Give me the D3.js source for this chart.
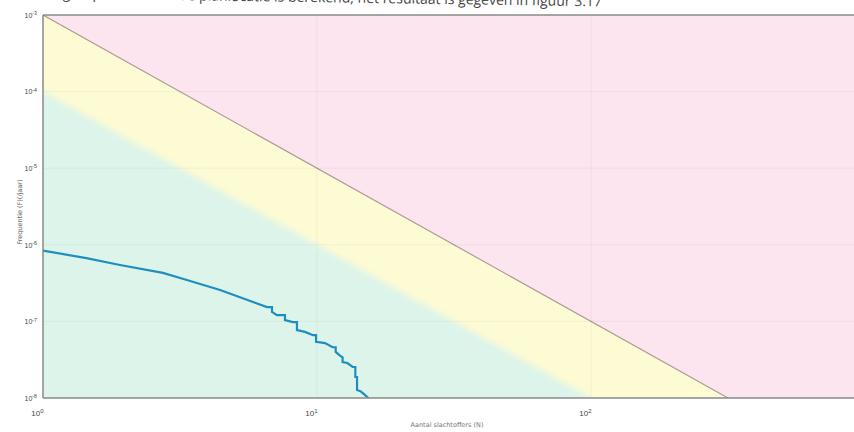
<!DOCTYPE html>
<html>
<head>
<meta charset="utf-8">
<script src="https://cdn.jsdelivr.net/npm/d3@7"></script>
<style>
  body { margin: 0; background: #fff; }
  svg { display: block; font-family: "DejaVu Sans", sans-serif; }
</style>
</head>
<body>
<svg id="chart" width="854" height="432"></svg>
<script>
// F-N curve (groepsrisico) data
var curveN = [1.0, 1.44, 1.91, 2.74, 3.35, 4.43, 5.84, 6.57, 6.85, 6.85, 7.14, 7.64, 7.64, 8.17, 8.45, 8.45, 9.04, 9.67, 9.92, 9.92, 10.7, 11.4, 11.7, 11.7, 12.1, 12.4, 12.4, 12.9, 13.5, 13.8, 13.8, 14.0, 14.0, 14.4, 14.7, 15.4];
var curveF = [8.4e-7, 6.7e-7, 5.45e-7, 4.3e-7, 3.47e-7, 2.57e-7, 1.79e-7, 1.54e-7, 1.54e-7, 1.33e-7, 1.21e-7, 1.21e-7, 1.04e-7, 9.8e-8, 9.8e-8, 7.7e-8, 7.3e-8, 6.6e-8, 6.6e-8, 5.4e-8, 5.2e-8, 4.6e-8, 4.6e-8, 4.0e-8, 3.6e-8, 3.4e-8, 2.95e-8, 2.86e-8, 2.54e-8, 2.54e-8, 1.88e-8, 1.88e-8, 1.27e-8, 1.23e-8, 1.16e-8, 1.0e-8];

// norm lines F = C / N^2
var limitC = [1e-3, 1e-4];
var zoneColors = ["#fce5ef", "#fdfbd3", "#ddf4ea"];

var xTicks = [1, 10, 100];
var yTicks = [1e-3, 1e-4, 1e-5, 1e-6, 1e-7, 1e-8];
var xDomain = [1, 1000];
var yDomain = [1e-8, 1e-3];

var svg = d3.select("#chart");
var mLeft = 43, mTop = 15, mBottom = 398, mRight = 865;

var x = d3.scaleLog().domain(xDomain).range([mLeft, mRight]);
var y = d3.scaleLog().domain(yDomain).range([mBottom, mTop]);

// cut-off line of page text above the figure (scan is slightly skewed)
svg.append("text")
    .attr("transform", "translate(36,-2) rotate(0.85)")
    .attr("font-family", "Open Sans, sans-serif")
    .attr("font-size", 14)
    .attr("fill", "#444")
    .text("Het groepsrisico voor de planlocatie is berekend; het resultaat is gegeven in figuur 3.17");

var defs = svg.append("defs");
defs.append("clipPath").attr("id", "plot")
  .append("rect").attr("x", mLeft).attr("y", mTop)
    .attr("width", mRight - mLeft).attr("height", mBottom - mTop);
defs.append("filter").attr("id", "soft")
  .attr("x", "-10%").attr("y", "-10%").attr("width", "120%").attr("height", "120%")
  .append("feGaussianBlur").attr("stdDeviation", 3);

var plot = svg.append("g").attr("clip-path", "url(#plot)");

function nAt(c, f) { return Math.sqrt(c / f); }
var fMin = yDomain[0], fMax = yDomain[1];

var pinkPts = [[xDomain[0], fMax], [xDomain[1], fMax], [xDomain[1], fMin], [nAt(limitC[0], fMin), fMin]];
var yellowPts = [[xDomain[0], fMax], [nAt(limitC[0], fMin), fMin], [xDomain[0], fMin]];
var greenPts = [[xDomain[0] / 2, limitC[1] / 0.25], [nAt(limitC[1], fMin), fMin], [nAt(limitC[1], fMin), fMin / 10], [xDomain[0] / 2, fMin / 10]];

var poly = d3.line().x(function(d) { return x(d[0]); }).y(function(d) { return y(d[1]); });

plot.append("path").attr("d", poly(yellowPts) + "Z").attr("fill", zoneColors[1]);
plot.append("path").attr("d", poly(greenPts) + "Z").attr("fill", zoneColors[2]).attr("filter", "url(#soft)");
plot.append("path").attr("d", poly(pinkPts) + "Z").attr("fill", zoneColors[0]);

// boundary line of the orientation value
plot.append("line")
    .attr("x1", x(1)).attr("y1", y(limitC[0]))
    .attr("x2", x(nAt(limitC[0], fMin))).attr("y2", y(fMin))
    .attr("stroke", "#ad9d9a").attr("stroke-width", 1.2);

// grid
plot.selectAll(".hgrid").data(yTicks).enter().append("line")
    .attr("x1", mLeft).attr("x2", mRight)
    .attr("y1", function(d) { return y(d); }).attr("y2", function(d) { return y(d); })
    .attr("stroke", "rgba(0,0,0,0.045)");
plot.selectAll(".vgrid").data(xTicks.slice(1)).enter().append("line")
    .attr("y1", mTop).attr("y2", mBottom)
    .attr("x1", function(d) { return x(d); }).attr("x2", function(d) { return x(d); })
    .attr("stroke", "rgba(0,0,0,0.04)");

// F-N curve
var fn = d3.range(curveN.length).map(function(i) { return [curveN[i], curveF[i]]; });
plot.append("path")
    .attr("d", poly(fn))
    .attr("fill", "none")
    .attr("stroke", "#1d8fbf")
    .attr("stroke-width", 2.2);

// frame
var frame = svg.append("g").attr("stroke", "#8a8a8a").attr("stroke-width", 1.5);
frame.append("line").attr("x1", mLeft).attr("x2", mLeft).attr("y1", mTop).attr("y2", mBottom);
frame.append("line").attr("x1", mLeft).attr("x2", mRight).attr("y1", mTop).attr("y2", mTop);
frame.append("line").attr("x1", mLeft).attr("x2", mRight).attr("y1", mBottom).attr("y2", mBottom);

function powLabel(sel) {
  sel.each(function(d) {
    var t = d3.select(this).text("");
    var e = Math.round(Math.log10(d));
    t.append("tspan").text("10");
    t.append("tspan").attr("dy", "-0.5em").attr("font-size", "0.75em").text(e);
  });
}

var yAxis = svg.append("g")
    .attr("transform", "translate(" + mLeft + ",0)")
    .call(d3.axisLeft(y).tickValues(yTicks).tickSize(0).tickPadding(6));
yAxis.select(".domain").remove();
yAxis.selectAll("text").attr("font-size", 7).attr("fill", "#444").call(powLabel);

var xAxis = svg.append("g")
    .attr("transform", "translate(0," + mBottom + ")")
    .call(d3.axisBottom(x).tickValues(xTicks).tickSize(0).tickPadding(12));
xAxis.select(".domain").remove();
xAxis.selectAll("text").attr("font-size", 8).attr("fill", "#444")
    .attr("text-anchor", "end").attr("dx", 0).call(powLabel);

svg.append("text")
    .attr("transform", "translate(22,212) rotate(-90)")
    .attr("text-anchor", "middle")
    .attr("font-size", 6.5).attr("fill", "#666")
    .text("Frequentie (F)(/jaar)");

svg.append("text")
    .attr("x", 447).attr("y", 427)
    .attr("text-anchor", "middle")
    .attr("font-size", 6.5).attr("fill", "#777")
    .text("Aantal slachtoffers (N)");
</script>
</body>
</html>
